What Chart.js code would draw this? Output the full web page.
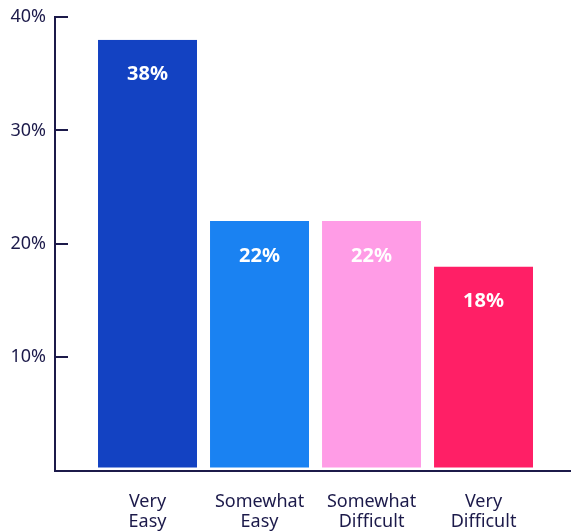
<!DOCTYPE html>
<html>
<head>
<meta charset="utf-8">
<script src="https://cdn.jsdelivr.net/npm/chart.js@4"></script>
<style>
  html, body { margin: 0; padding: 0; background: #fff; overflow: hidden; }
</style>
</head>
<body>
<canvas id="easeChart" width="571" height="531"></canvas>
<script>
// Survey answers
const CATEGORIES = [['Very', 'Easy'], ['Somewhat', 'Easy'], ['Somewhat', 'Difficult'], ['Very', 'Difficult']];
const PERCENTAGES = [38, 22, 22, 18];
const BAR_COLORS = ['#1342c2', '#1a82f2', '#ff9ce6', '#ff1f66'];
const Y_TICKS = [10, 20, 30, 40];

const INK = '#1c1a4a';
const FONT = '"Noto Sans", "Open Sans", sans-serif';

// Writes the value inside the top of each bar
const barValueLabels = {
    id: 'barValueLabels',
    afterDatasetsDraw(chart) {
        const ctx = chart.ctx;
        const meta = chart.getDatasetMeta(0);
        ctx.save();
        ctx.fillStyle = '#fff';
        ctx.font = `bold 20px ${FONT}`;
        ctx.textAlign = 'center';
        ctx.textBaseline = 'middle';
        meta.data.forEach((bar, i) => {
            ctx.fillText(PERCENTAGES[i] + '%', bar.x, bar.y + 35);
        });
        ctx.restore();
    }
};

function renderChart() {
    const ctx = document.getElementById('easeChart').getContext('2d');

    new Chart(ctx, {
        type: 'bar',
        data: {
            datasets: [{
                data: PERCENTAGES.map((v, i) => ({ x: i + 1, y: v })),
                backgroundColor: BAR_COLORS,
                borderColor: '#fff',
                borderWidth: { top: 0, right: 0, bottom: 2, left: 0 },
                borderSkipped: false,
                categoryPercentage: 1,
                barPercentage: 0.884
            }]
        },
        options: {
            responsive: false,
            animation: false,
            layout: { padding: { top: 17, right: 0, bottom: 0, left: 0 } },
            plugins: {
                legend: { display: false },
                tooltip: { enabled: false }
            },
            scales: {
                x: {
                    type: 'linear',
                    offset: false,
                    min: 0.174,
                    max: 4.781,
                    // labels hang off the bottom edge a little
                    afterFit: (scale) => { scale.height = 60.5; },
                    grid: { display: true, drawOnChartArea: false, drawTicks: false },
                    border: { display: true, color: INK, width: 2, z: 1 },
                    ticks: {
                        stepSize: 1,
                        includeBounds: false,
                        autoSkip: false,
                        maxRotation: 0,
                        padding: 21,
                        color: INK,
                        font: { family: FONT, size: 18, lineHeight: 1.12 },
                        callback: (v) => CATEGORIES[v - 1] || ''
                    }
                },
                y: {
                    min: 0,
                    max: Y_TICKS[Y_TICKS.length - 1],
                    afterFit: (scale) => {
                        // labels sit left of the inward ticks, keep the plot tight to the edges
                        scale.width = 55;
                        scale.paddingTop = 0;
                        scale.paddingBottom = 0;
                    },
                    afterBuildTicks: (scale) => {
                        scale.ticks = [0, ...Y_TICKS].map(v => ({ value: v }));
                    },
                    grid: {
                        drawOnChartArea: false,
                        drawTicks: true,
                        tickLength: -13,
                        tickColor: INK,
                        tickWidth: 2,
                        lineWidth: 2
                    },
                    border: { display: true, color: INK, width: 2 },
                    ticks: {
                        padding: 22,
                        color: INK,
                        font: { family: FONT, size: 18 },
                        callback: (v) => (v === 0 ? '' : v + '%')
                    }
                }
            }
        },
        plugins: [barValueLabels]
    });
}

document.addEventListener('DOMContentLoaded', renderChart);
</script>
</body>
</html>
